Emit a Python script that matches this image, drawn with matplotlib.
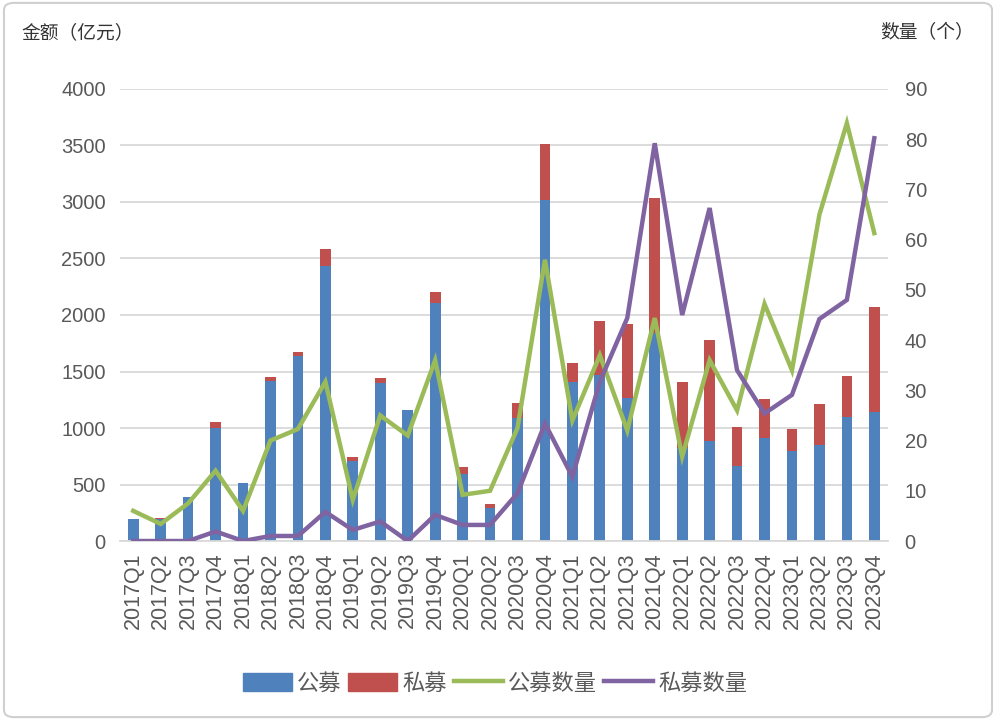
import numpy as np
import matplotlib
matplotlib.use("Agg")
import matplotlib.pyplot as plt
from matplotlib.patches import Patch, FancyBboxPatch
from matplotlib.lines import Line2D

plt.rcParams['font.family'] = ['Liberation Sans', 'Noto Sans CJK SC', 'DejaVu Sans']

# quarters
quarters = ['2017Q1', '2017Q2', '2017Q3', '2017Q4',
            '2018Q1', '2018Q2', '2018Q3', '2018Q4',
            '2019Q1', '2019Q2', '2019Q3', '2019Q4',
            '2020Q1', '2020Q2', '2020Q3', '2020Q4',
            '2021Q1', '2021Q2', '2021Q3', '2021Q4',
            '2022Q1', '2022Q2', '2022Q3', '2022Q4',
            '2023Q1', '2023Q2', '2023Q3', '2023Q4']

# amount, 亿元
public_amt = [195, 195, 386, 1003, 516, 1420, 1640, 2435, 708, 1396, 1159, 2103,
              593, 295, 1086, 3018, 1404, 1469, 1263, 1840, 820, 885, 662, 909,
              800, 850, 1100, 1144]
total_amt = [195, 200, 386, 1056, 516, 1454, 1675, 2581, 746, 1440, 1159, 2207,
             652, 325, 1224, 3513, 1573, 1950, 1918, 3038, 1410, 1779, 1012, 1255,
             994, 1210, 1463, 2068]
private_amt = [t - p for t, p in zip(total_amt, public_amt)]

# counts, 个
public_cnt = [6, 3.4, 7.5, 14, 6, 20, 22.3, 31.7, 8.2, 25, 21, 36,
              9.2, 10, 22.5, 56, 24, 37, 22, 44.4, 16.8, 36, 26, 47.2,
              34, 65, 83.2, 61.3]
private_cnt = [0, 0, 0, 1.9, 0, 1, 1, 5.8, 2.2, 3.9, 0, 5.2,
               3.2, 3.2, 9.5, 23.4, 12.8, 31.7, 44.4, 79.2, 45, 66.3, 34, 25.4,
               29.1, 44.2, 48, 80.2]

blue = '#4F81BD'
red = '#C0504D'
green = '#9BBB59'
purple = '#8064A2'
txt = '#595959'
grid = '#D9D9D9'

fig = plt.figure(figsize=(9.96, 7.2), dpi=100)
ax = fig.add_axes([0.12, 0.2486, 0.7716, 0.6278])
x = np.arange(len(quarters))

ax.bar(x, public_amt, width=0.39, color=blue, zorder=2)
ax.bar(x, private_amt, width=0.39, bottom=public_amt, color=red, zorder=2)
ax.set_ylim(0, 4000)
ax.set_yticks(np.arange(0, 4001, 500))
ax.set_xlim(-0.5, len(quarters) - 0.5)
ax.set_xticks(x)
ax.set_xticklabels(quarters, rotation=90)
ax.grid(axis='y', color=grid, lw=1.3, zorder=0)
ax.set_axisbelow(True)
for s in ['top', 'right', 'left']:
    ax.spines[s].set_visible(False)
ax.spines['bottom'].set_color(grid)
ax.spines['bottom'].set_linewidth(1.3)
ax.tick_params(axis='y', length=0, pad=10, labelsize=14.5, labelcolor=txt)
ax.tick_params(axis='x', length=0, pad=8, labelsize=15.5, labelcolor=txt)

ax2 = ax.twinx()
ax2.plot(x, public_cnt, color=green, lw=3.2, solid_joinstyle='miter', zorder=3)
ax2.plot(x, private_cnt, color=purple, lw=3.2, solid_joinstyle='miter', zorder=4)
ax2.set_ylim(0, 90)
ax2.set_yticks(np.arange(0, 91, 10))
for s in ['top', 'right', 'left', 'bottom']:
    ax2.spines[s].set_visible(False)
ax2.tick_params(axis='y', length=0, pad=12, labelsize=14.5, labelcolor=txt)

fig.text(0.022, 0.954, '金额（亿元）', fontsize=13.5, color='#333333',
         family=['Noto Sans CJK SC'], va='center', ha='left')
fig.text(0.884, 0.954, '数量（个）', fontsize=13.5, color='#333333',
         family=['Noto Sans CJK SC'], va='center', ha='left')

handles = [Patch(color=blue), Patch(color=red),
           Line2D([], [], color=green, lw=3.2), Line2D([], [], color=purple, lw=3.2)]
labels = ['公募', '私募', '公募数量', '私募数量']
fig.legend(handles, labels, loc='center', bbox_to_anchor=(0.497, 0.051), ncol=4,
           frameon=False, handlelength=2.2, handleheight=0.9, handletextpad=0.25,
           columnspacing=0.3, prop={'family': 'Noto Sans CJK SC', 'size': 16},
           labelcolor=txt)

border = FancyBboxPatch((0.004, 0.004), 0.992, 0.992, boxstyle='round,pad=0,rounding_size=0.01',
                        transform=fig.transFigure, fill=False, ec='#D0D0D0', lw=1.5)
fig.patches.append(border)

fig.savefig('out.png', dpi=100)
